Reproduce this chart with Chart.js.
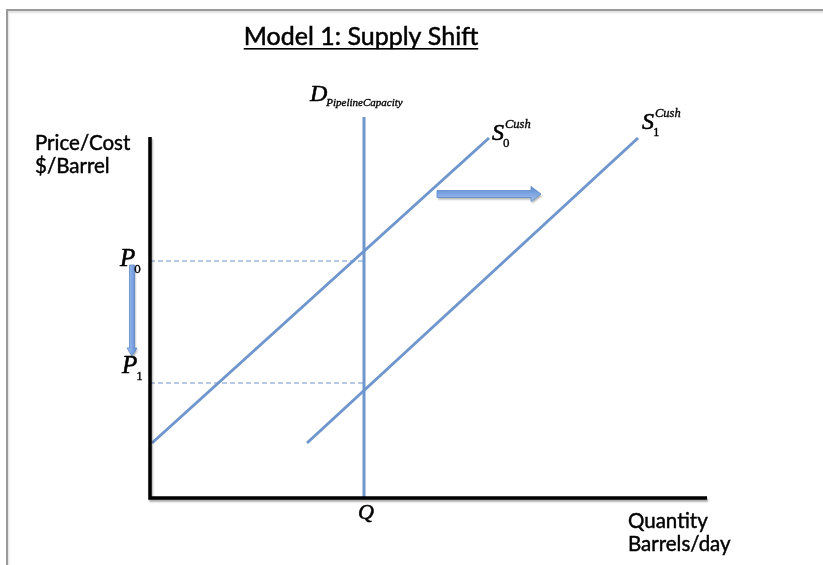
<!DOCTYPE html>
<html><head><meta charset="utf-8">
<script src="https://cdn.jsdelivr.net/npm/chart.js@4"></script>
<style>
html,body{margin:0;padding:0;background:#fff;width:823px;height:565px;overflow:hidden}
#frame{position:absolute;left:6px;top:9px;width:840px;height:580px;border-top:2px solid #9a9a9a;border-left:2px solid #9a9a9a;box-shadow:inset 1px 2px 2px rgba(0,0,0,0.12)}
#wrap{position:absolute;left:0;top:0;width:823px;height:565px}
</style></head>
<body><div id="frame"></div><div id="wrap"><canvas id="c" width="823" height="565"></canvas></div>
<script>
// ---- data (x = quantity units, y = price units) ----
const axisFrame = [{x:0,y:361},{x:0,y:0},{x:557,y:0}];
const supply0 = [{x:2,y:55},{x:339,y:360}];
const supply1 = [{x:157,y:55},{x:488,y:360}];
const demandQ = 214;
const demandTop = 381;
const priceP0 = 237;
const priceP1 = 115;
const shiftArrow = [{x:287,y:304},{x:391,y:304}];
const priceArrow = [{x:-18,y:233},{x:-18,y:142}];
const titleText = 'Model 1: Supply Shift';
const yAxisLabel = ['Price/Cost','$/Barrel'];
const xAxisLabel = ['Quantity','Barrels/day'];

const BLUE = '#6f96cd';
const serif = '"Liberation Serif", "DejaVu Serif", serif';
const sans = 'Lato, "Open Sans", sans-serif';

function drawArrow(ctx, x1, y1, x2, y2, shaft, headW, headL){
  const dx=x2-x1, dy=y2-y1, len=Math.hypot(dx,dy), ux=dx/len, uy=dy/len, nx=-uy, ny=ux;
  const bx=x2-ux*headL, by=y2-uy*headL;
  ctx.save();
  ctx.shadowColor='rgba(0,0,0,0.3)'; ctx.shadowOffsetX=1; ctx.shadowOffsetY=2; ctx.shadowBlur=2;
  ctx.beginPath();
  ctx.moveTo(x1+nx*shaft/2, y1+ny*shaft/2);
  ctx.lineTo(bx+nx*shaft/2, by+ny*shaft/2);
  ctx.lineTo(bx+nx*headW/2, by+ny*headW/2);
  ctx.lineTo(x2,y2);
  ctx.lineTo(bx-nx*headW/2, by-ny*headW/2);
  ctx.lineTo(bx-nx*shaft/2, by-ny*shaft/2);
  ctx.lineTo(x1-nx*shaft/2, y1-ny*shaft/2);
  ctx.closePath();
  const g=ctx.createLinearGradient(x1+nx*headW/2,y1+ny*headW/2,x1-nx*headW/2,y1-ny*headW/2);
  g.addColorStop(0,'#a9c6f0'); g.addColorStop(0.5,'#7ea6e2'); g.addColorStop(1,'#5d8bd2');
  ctx.fillStyle=g; ctx.fill();
  ctx.shadowColor='transparent';
  ctx.strokeStyle='#5f89c8'; ctx.lineWidth=0.8; ctx.stroke();
  ctx.restore();
}

function heavyText(ctx, t, x, y, sw){
  ctx.fillText(t,x,y);
  ctx.lineWidth=sw; ctx.strokeStyle=ctx.fillStyle; ctx.strokeText(t,x,y);
}

function drawSym(ctx, base, sub, sup, x, y, baseSize, subSize, supSize, subItalic){
  ctx.save();
  ctx.fillStyle='#000'; ctx.textBaseline='alphabetic'; ctx.textAlign='left';
  ctx.font='italic '+baseSize+'px '+serif;
  heavyText(ctx,base,x,y,0.6);
  const w=ctx.measureText(base).width;
  if(sup){ ctx.font='italic '+supSize+'px '+serif; heavyText(ctx,sup,x+w+1,y-baseSize*0.52,0.35); }
  if(sub){
    ctx.font=(subItalic?'italic ':'')+subSize+'px '+serif;
    heavyText(ctx,sub,x+w-(subItalic?1:1),y+subSize*(subItalic?0.45:0.55),0.35);
  }
  ctx.restore();
}

const overlay = {
  id:'overlay',
  afterDatasetsDraw(chart){
    const ctx=chart.ctx, xs=chart.scales.x, ys=chart.scales.y;
    const px=v=>xs.getPixelForValue(v), py=v=>ys.getPixelForValue(v);
    drawArrow(ctx, px(shiftArrow[0].x), py(shiftArrow[0].y), px(shiftArrow[1].x), py(shiftArrow[1].y), 7, 15, 10);
    drawArrow(ctx, px(priceArrow[0].x), py(priceArrow[0].y), px(priceArrow[1].x), py(priceArrow[1].y), 5, 10, 8);

    ctx.save();
    ctx.fillStyle='#000'; ctx.textBaseline='alphabetic';
    // title
    ctx.font='25px '+sans; ctx.textAlign='left';
    const tw=ctx.measureText(titleText).width;
    const tx=361-tw/2;
    heavyText(ctx,titleText,tx,45,0.5);
    ctx.fillRect(tx,48,tw,1.6);
    // axis labels
    ctx.font='20.5px '+sans;
    heavyText(ctx,yAxisLabel[0],35,150,0.45);
    heavyText(ctx,yAxisLabel[1],35,173,0.45);
    heavyText(ctx,xAxisLabel[0],628,528,0.45);
    heavyText(ctx,xAxisLabel[1],628,551,0.45);
    ctx.restore();

    // symbol labels
    drawSym(ctx,'D','PipelineCapacity',null, px(demandQ)-54, py(demandTop)-16, 24, 11, 0, true);
    drawSym(ctx,'S','0','Cush', px(supply0[1].x)+3, py(supply0[1].y)+2, 24, 13, 12.5, false);
    drawSym(ctx,'S','1','Cush', px(supply1[1].x)+4, py(supply1[1].y)-9, 24, 13, 12.5, false);
    drawSym(ctx,'P','0',null, px(0)-30, py(priceP0)+5, 25, 13, 0, false);
    drawSym(ctx,'P','1',null, px(0)-28, py(priceP1)-10, 25, 13, 0, false);
    drawSym(ctx,'Q',null,null, px(demandQ)-6, py(0)+21, 22, 0, 0, false);
  }
};

const axisShadow = {
  id:'axisShadow',
  beforeDatasetDraw(chart,args){ if(args.index===0){ const c=chart.ctx; c.save(); c.shadowColor='rgba(0,0,0,0.35)'; c.shadowOffsetX=1; c.shadowOffsetY=2; c.shadowBlur=2; } },
  afterDatasetDraw(chart,args){ if(args.index===0){ chart.ctx.restore(); } }
};

const lineDs = (data, extra) => Object.assign({data, showLine:true, pointRadius:0, borderColor:BLUE, borderWidth:3, clip:false, fill:false}, extra||{});

new Chart(document.getElementById('c'), {
  type:'scatter',
  data:{datasets:[
    lineDs(axisFrame,{borderColor:'#000', borderWidth:3.5, borderJoinStyle:'miter'}),
    lineDs([{x:0,y:priceP0},{x:demandQ,y:priceP0}],{borderWidth:1.2, borderDash:[5,3]}),
    lineDs([{x:0,y:priceP1},{x:demandQ,y:priceP1}],{borderWidth:1.2, borderDash:[5,3]}),
    lineDs(supply0),
    lineDs(supply1),
    lineDs([{x:demandQ,y:0},{x:demandQ,y:demandTop}])
  ]},
  options:{
    responsive:false, animation:false, devicePixelRatio:1,
    layout:{padding:{left:150,right:116,top:137,bottom:67}},
    scales:{
      x:{type:'linear', min:0, max:557, display:false},
      y:{type:'linear', min:0, max:361, display:false}
    },
    plugins:{legend:{display:false}, tooltip:{enabled:false}, title:{display:false}}
  },
  plugins:[axisShadow, overlay]
});
</script>
</body></html>
